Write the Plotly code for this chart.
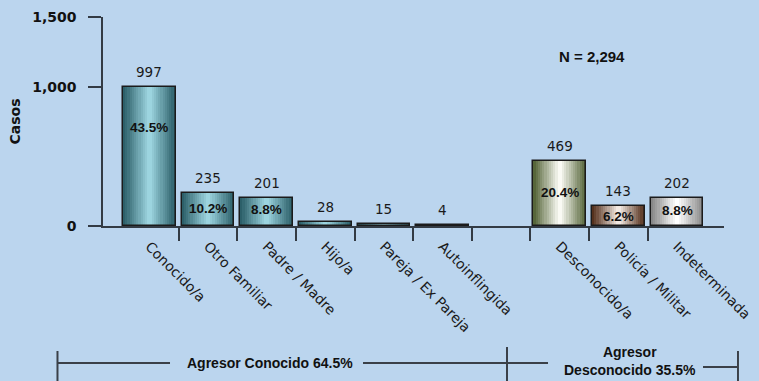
import plotly.graph_objects as go

# ---- data ----
categories = ["Conocido/a", "Otro Familiar", "Padre / Madre", "Hijo/a",
              "Pareja / Ex Pareja", "Autoinflingida",
              "Desconocido/a", "Policía / Militar", "Indeterminada"]
slots = [0, 1, 2, 3, 4, 5, 7, 8, 9]          # slot 6 is an empty gap
casos = [997, 235, 201, 28, 15, 4, 469, 143, 202]
pct_labels = ["43.5%", "10.2%", "8.8%", "", "", "", "20.4%", "6.2%", "8.8%"]
pct_label_y = [705, 129, 115, None, None, None, 237, 65, 108]
y_ticks = [0, 1000, 1500]
y_tick_text = ["0", "1,000", "1,500"]
slot_edges = [0.5, 1.5, 2.5, 3.5, 4.5, 5.5, 6.5, 7.5, 8.5]

# ---- styles ----
BG = "#BBD5EE"
teal = ("#2C5F69", "#9CD4DF")
olive = ("#56663A", "#FAFAF4")
brown = ("#55311D", "#F2E9E2")
gray = ("#888888", "#FFFFFF")
bar_palette = [teal] * 6 + [olive, brown, gray]
BAR_W = 0.9
N_LAYERS = 12


def mix(c1, c2, t):
    a = [int(c1[i:i + 2], 16) for i in (1, 3, 5)]
    b = [int(c2[i:i + 2], 16) for i in (1, 3, 5)]
    return "#%02x%02x%02x" % tuple(round(a[k] + (b[k] - a[k]) * t) for k in range(3))


fig = go.Figure()

# cylindrical gradient: overlaid bars of shrinking width
for i in range(N_LAYERS):
    t = i / (N_LAYERS - 1)
    w = BAR_W * (1 - i / N_LAYERS)
    fig.add_trace(go.Bar(
        x=slots, y=casos, width=w,
        marker=dict(color=[mix(e, c, t) for e, c in bar_palette], line=dict(width=0)),
        hoverinfo="skip", showlegend=False))

# outline
fig.add_trace(go.Bar(
    x=slots, y=casos, width=BAR_W,
    marker=dict(color="rgba(0,0,0,0)", line=dict(color="#1b1b1b", width=1.5)),
    showlegend=False))

annotations = []
for s, v in zip(slots, casos):
    annotations.append(dict(x=s, y=v, xref="x", yref="y", text=str(v), showarrow=False,
                            xanchor="center", yanchor="middle", yshift=15,
                            font=dict(family="DejaVu Sans", size=13.5, color="#1a1a1a")))
for s, p, py in zip(slots, pct_labels, pct_label_y):
    if p:
        annotations.append(dict(x=s, y=py, xref="x", yref="y", text="<b>%s</b>" % p,
                                showarrow=False, xanchor="center", yanchor="middle",
                                font=dict(family="Liberation Sans", size=13.5, color="#111")))

annotations += [
    dict(x=0.787, y=0.813, xref="paper", yref="paper", text="<b>N = 2,294</b>",
         showarrow=False, xanchor="center", yanchor="middle",
         font=dict(family="Liberation Sans", size=15, color="#111")),
    dict(x=0.269, y=-0.6555, xref="paper", yref="paper", text="<b>Agresor Conocido 64.5%</b>",
         showarrow=False, xanchor="center", yanchor="middle",
         font=dict(family="Liberation Sans", size=14, color="#111")),
    dict(x=0.8486, y=-0.646, xref="paper", yref="paper",
         text="<b>Agresor<br>Desconocido 35.5%</b>",
         showarrow=False, xanchor="center", yanchor="middle",
         font=dict(family="Liberation Sans", size=14, color="#111")),
]

LC = "#3a4048"
shapes = []
for x0, y0, x1, y1 in [(-0.0741, -0.6555, 0.1079, -0.6555),
                       (0.4187, -0.6555, 0.7166, -0.6555),
                       (0.9662, -0.6746, 1.0225, -0.6746),
                       (-0.0733, -0.598, -0.0733, -0.75),
                       (0.6506, -0.579, 0.6506, -0.75),
                       (1.0225, -0.598, 1.0225, -0.75)]:
    shapes.append(dict(type="line", xref="paper", yref="paper", x0=x0, y0=y0, x1=x1, y1=y1,
                       line=dict(color=LC, width=2)))

fig.update_layout(
    width=759, height=381, autosize=False,
    margin=dict(l=103, r=35, t=17, b=155, autoexpand=False),
    paper_bgcolor=BG, plot_bgcolor=BG,
    barmode="overlay", bargap=0,
    showlegend=False,
    annotations=annotations, shapes=shapes,
    xaxis=dict(
        range=[-0.79, 9.8], tickmode="array", tickvals=slots, ticktext=categories,
        tickangle=45, ticks="", showgrid=False, zeroline=False, automargin=False,
        showline=True, linecolor="#333b44", linewidth=1.5,
        tickfont=dict(family="DejaVu Sans", size=14, color="#1a1a1a"),
        ticklabelstandoff=5,
        minor=dict(tickmode="array", tickvals=slot_edges, ticks="outside",
                   ticklen=13, tickwidth=1.5, tickcolor="#333b44", showgrid=False),
    ),
    yaxis=dict(
        range=[0, 1500], tickmode="array", tickvals=y_ticks, ticktext=y_tick_text,
        ticks="outside", ticklen=13, tickwidth=1.5, tickcolor="#333b44",
        showgrid=False, zeroline=False, automargin=False,
        showline=True, linecolor="#333b44", linewidth=1.5,
        tickfont=dict(family="DejaVu Sans", size=14, color="#111", weight="bold"),
        ticklabelstandoff=9,
        title=dict(text="<b>Casos</b>", standoff=8,
                   font=dict(family="DejaVu Sans", size=14, color="#111")),
    ),
)

fig.write_html("out.html", config={"displayModeBar": False},
               post_script="document.body.style.margin='0';document.body.style.overflow='hidden';")
